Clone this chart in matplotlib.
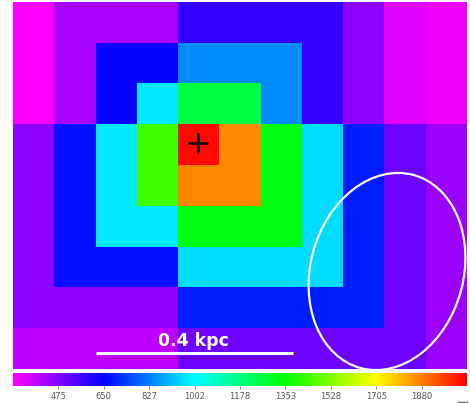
import numpy as np
import matplotlib
matplotlib.use("Agg")
import matplotlib.pyplot as plt
from matplotlib.colors import LinearSegmentedColormap
from matplotlib.patches import Ellipse
from matplotlib.lines import Line2D

# valors del mapa (9 files x 11 columnes), llegits dels colors
row0 = [305, 417, 417, 417, 585, 585, 585, 585, 464, 345, 322]
row1 = [305, 417, 645, 645, 845, 845, 845, 585, 464, 345, 322]
row2 = [305, 417, 645, 975, 1265, 1265, 845, 585, 464, 345, 322]
row3 = [464, 675, 975, 1440, 2035, 1865, 1330, 955, 695, 505, 440]
row4 = [464, 675, 975, 1440, 1865, 1865, 1330, 955, 695, 505, 440]
row5 = [464, 675, 975, 975, 1330, 1330, 1330, 955, 695, 505, 440]
row6 = [464, 675, 675, 675, 955, 955, 955, 955, 695, 505, 440]
row7 = [464, 464, 464, 464, 695, 695, 695, 695, 695, 505, 440]
row8 = [394, 394, 394, 394, 500, 500, 500, 500, 500, 505, 440]

vmin, vmax = 299.5, 2055
cbar_ticks = [475, 650, 827, 1002, 1178, 1353, 1528, 1705, 1880]
cbar_labels = ["475", "650", "827", "1002", "1178", "1353", "1528", "1705", "1880"]
scale_label = "0.4 kpc"

grid = np.array([row0, row1, row2, row3, row4, row5, row6, row7, row8], dtype=float)
nrows, ncols = grid.shape

# magenta -> blau -> cian -> verd -> groc -> vermell
cmap = LinearSegmentedColormap.from_list(
    "hue", ["#ff00ff", "#0000ff", "#00ffff", "#00ff00", "#ffff00", "#ff0000"])

W, H = 470, 403
fig = plt.figure(figsize=(W / 100, H / 100), dpi=100)

ax = fig.add_axes([13 / W, (H - 369) / H, 454 / W, 367 / H])
im = ax.imshow(grid, cmap=cmap, vmin=vmin, vmax=vmax, extent=(0, ncols, nrows, 0),
               aspect="auto", interpolation="nearest")
ax.set_xlim(0, ncols)
ax.set_ylim(nrows, 0)
ax.axis("off")

# conversio de pixels a coordenades de dades
px = lambda x: (x - 13) / (454 / ncols)
py = lambda y: (y - 2) / (367 / nrows)

# creu al centre
ax.plot(px(198), py(143), marker="+", color="black", markersize=14, mew=1.8)

# el·lipse (beam)
ell = Ellipse((px(387), py(271.5)), width=153 / (454 / ncols), height=200 / (367 / nrows),
              angle=15, fill=False, edgecolor="white", lw=1.6)
ax.add_patch(ell)

# barra d'escala
ax.plot([px(96), px(293)], [py(353), py(353)], color="white", lw=2.2, solid_capstyle="butt")
ax.text(px(193), py(341), scale_label, color="white", fontsize=12.5, fontweight="bold",
        ha="center", va="center")

# barra de colors
cax = fig.add_axes([13 / W, (H - 386) / H, 454 / W, 13 / H])
cb = fig.colorbar(im, cax=cax, orientation="horizontal")
cb.outline.set_visible(False)
cb.set_ticks(cbar_ticks)
cb.set_ticklabels(cbar_labels)
cax.tick_params(length=2, width=0.6, color="#777777", labelsize=6, labelcolor="#555555", pad=2)

fig.add_artist(Line2D([458 / W, 467 / W], [1.5 / H, 1.5 / H], color="#666666", lw=1))

fig.savefig("out.png", dpi=100)
